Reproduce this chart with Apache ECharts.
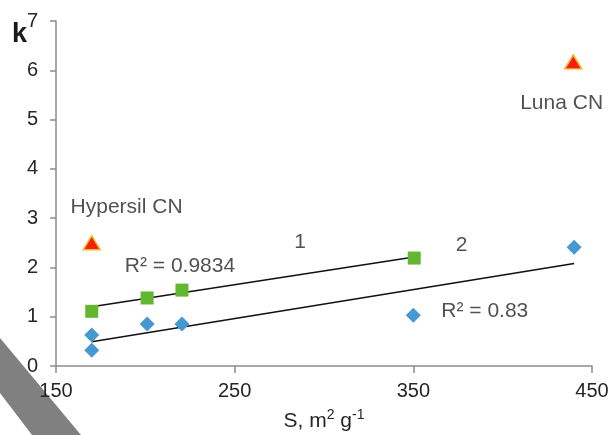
<!DOCTYPE html>
<html style="height: 100%">
<head>
    <meta charset="utf-8">
    <style type="text/css">
        .box{width: 609px;height:435px;}
    </style>
</head>
<body style="height: 100%; margin: 0; background:#fff">
<div class="box" id="container"></div>
<script src="https://cdn.jsdelivr.net/npm/echarts@6/dist/echarts.min.js"></script>
<script type="text/javascript">
    // series 1 (green squares)
    var s1 = [[170, 1.11], [201, 1.38], [220.5, 1.54], [350.5, 2.19]];
    // series 2 (blue diamonds)
    var s2 = [[170, 0.63], [170, 0.32], [201, 0.85], [220.5, 0.85], [350, 1.03], [440, 2.41]];
    // separate columns (red triangles)
    var cols = [[170, 2.5], [439.5, 6.17]];
    // trend lines, ends
    var trend1 = [[170, 1.2], [350.5, 2.21]];
    var trend2 = [[170, 0.49], [440, 2.08]];
    // text notes placed at data coords
    var notes = [
        {name: 'Hypersil CN', value: [189.5, 3.23]},
        {name: 'Luna CN', value: [433, 5.33]},
        {name: '1', value: [286.6, 2.52]},
        {name: '2', value: [377, 2.45]},
        {name: 'R\u00b2 = 0.9834', value: [219.4, 2.03]},
        {name: 'R\u00b2 = 0.83', value: [390, 1.12]}
    ];
    var xTicks = [150, 250, 350, 450];

    var font = 'Liberation Sans, Arial, sans-serif';
    var axisCol = '#8c8c8c';
    var txtCol = '#262626';
    var chart = echarts.init(document.getElementById('container'));
    var option = {
        backgroundColor: '#ffffff',
        animation: false,
        grid: {left: 56, right: 17, top: 21, bottom: 69, outerBoundsMode: 'none'},
        graphic: [
            {
                type: 'polygon', z: -10,
                shape: {points: [[0, 338], [81, 435], [32, 435], [0, 393]]},
                style: {fill: '#808080'}
            },
            {
                type: 'text', left: 12, top: 21,
                style: {text: 'k', font: 'bold 27px ' + font, fill: '#1a1a1a'}
            }
        ],
        xAxis: {
            type: 'value', min: xTicks[0], max: xTicks[xTicks.length - 1], interval: 100,
            splitLine: {show: false},
            axisLine: {lineStyle: {color: axisCol, width: 1.5}},
            axisTick: {length: 7, lineStyle: {color: axisCol, width: 1.5}},
            axisLabel: {color: txtCol, fontSize: 20, fontFamily: font, margin: 15},
            name: 'S, m{sup|2} g{sup|-1}',
            nameLocation: 'middle',
            nameGap: 42,
            nameTextStyle: {
                color: txtCol, fontSize: 21, fontFamily: font, lineHeight: 26,
                rich: {sup: {fontSize: 14, fontFamily: font, color: txtCol, verticalAlign: 'top', lineHeight: 16}}
            }
        },
        yAxis: {
            type: 'value', min: 0, max: 7, interval: 1,
            splitLine: {show: false},
            axisLine: {lineStyle: {color: axisCol, width: 1.5}},
            axisTick: {length: 6, lineStyle: {color: axisCol, width: 1.5}},
            axisLabel: {color: txtCol, fontSize: 20, fontFamily: font, margin: 18}
        },
        series: [
            {
                type: 'line', data: trend1, symbol: 'none', silent: true,
                lineStyle: {color: '#111', width: 1.5}, z: 2
            },
            {
                type: 'line', data: trend2, symbol: 'none', silent: true,
                lineStyle: {color: '#111', width: 1.5}, z: 2
            },
            {
                type: 'scatter', data: s1, symbol: 'rect', symbolSize: 13,
                itemStyle: {color: '#62b730', opacity: 1}, z: 3
            },
            {
                type: 'scatter', data: s2, symbol: 'diamond', symbolSize: [15, 15],
                itemStyle: {color: '#4599d0', opacity: 1}, z: 3
            },
            {
                type: 'scatter', data: cols, symbol: 'triangle', symbolSize: [17, 14],
                itemStyle: {color: '#f5200c', borderColor: '#f7b52f', borderWidth: 1.5, opacity: 1}, z: 3
            },
            {
                type: 'scatter', data: notes, symbolSize: 0, silent: true,
                label: {
                    show: true, position: 'inside', formatter: function (p) { return p.name; },
                    color: txtCol, fontSize: 21, fontFamily: font
                }
            }
        ]
    };
    chart.setOption(option);
</script>
</body>
</html>
